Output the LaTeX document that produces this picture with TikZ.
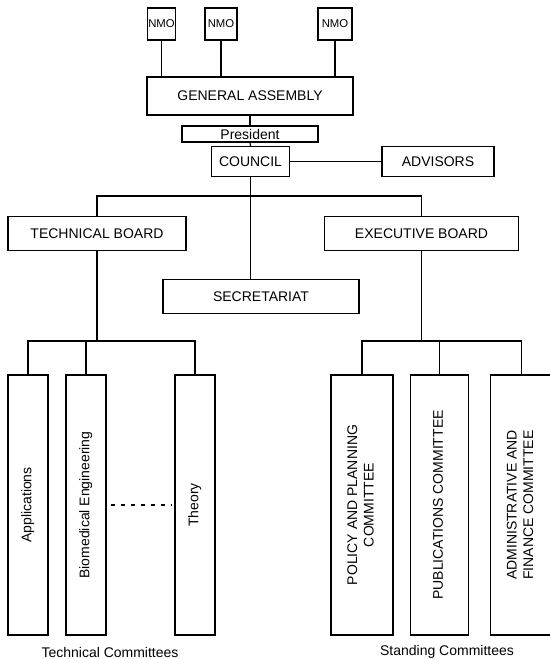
\documentclass[tikz,border=0pt]{standalone}
\usepackage{fontspec}
\setmainfont{Liberation Sans}
\tikzset{
	orgbox/.style={draw, line width=0.8pt, inner sep=0pt, align=center, font=\fontsize{10.5}{12.5}\selectfont},
	nmobox/.style={orgbox, minimum height=24pt, font=\fontsize{8.5}{10}\selectfont},
	tallbox/.style={orgbox, minimum height=195pt},
	link/.style={line width=0.9pt},
}
\newcommand{\uptext}[1]{\rotatebox{90}{\begin{tabular}{@{}c@{}}#1\end{tabular}}}

\begin{document}
\begin{tikzpicture}[x=0.75pt, y=-0.75pt]
	\useasboundingbox (0,0) rectangle (549,659);
	\node [nmobox, minimum width=21pt] (nmoA) at (161.5,24) {NMO};
	\node [nmobox, minimum width=24pt] (nmoB) at (221,24) {NMO};
	\node [nmobox, minimum width=25.5pt] (nmoC) at (335,24) {NMO};
	\node [orgbox, minimum width=154.5pt, minimum height=28.5pt] (assembly) at (250,96) {GENERAL ASSEMBLY};
	\node [orgbox, minimum width=102pt, minimum height=12pt] (president) at (250,134) {President};
	\node [orgbox, minimum width=59pt, minimum height=22pt] (council) at (250.5,161.5) {COUNCIL};
	\node [orgbox, minimum width=84pt, minimum height=22pt] (advisors) at (438,161.5) {ADVISORS};
	\node [orgbox, minimum width=133.5pt, minimum height=26pt] (techboard) at (97,233.5) {TECHNICAL BOARD};
	\node [orgbox, minimum width=146pt, minimum height=26pt] (execboard) at (421.5,233.5) {EXECUTIVE BOARD};
	\node [orgbox, minimum width=147pt, minimum height=26pt] (secretariat) at (261,296.5) {SECRETARIAT};
	\node [tallbox, minimum width=30pt] (applications) at (28,505) {\uptext{Applications}};
	\node [tallbox, minimum width=30pt] (biomedical) at (86,505) {\uptext{Biomedical Engineering}};
	\node [tallbox, minimum width=30pt] (theory) at (195,505) {\uptext{Theory}};
	\node [tallbox, minimum width=46.5pt] (policy) at (362,505) {\uptext{POLICY AND PLANNING\\COMMITTEE}};
	\node [tallbox, minimum width=43pt] (publications) at (439.5,505) {\uptext{PUBLICATIONS COMMITTEE}};
	\node [tallbox, minimum width=46pt] (finance) at (521.5,505) {\uptext{ADMINISTRATIVE AND\\FINANCE COMMITTEE}};
	\node [font=\fontsize{10.5}{12.5}\selectfont] (techlabel) at (110,652) {Technical Committees};
	\node [font=\fontsize{10.5}{12.5}\selectfont] (standlabel) at (447,652) {Standing Committees};
	\coordinate (split) at (250,196);
	\coordinate (techbus) at (97,341);
	\coordinate (standbus) at (421.5,341);
	\draw [link] (nmoA.south) -- (nmoA.south |- assembly.north);
	\draw [link] (nmoB.south) -- (nmoB.south |- assembly.north);
	\draw [link] (nmoC.south) -- (nmoC.south |- assembly.north);
	\draw [link] (assembly.south) -- (president.north);
	\draw [link] (president.south) -- (council.north);
	\draw [link] (council.east) -- (advisors.west);
	\draw [link] (council.south) -- (council.south |- secretariat.north);
	\draw [link] (techboard.north) |- (split) -| (execboard.north);
	\draw [link] (techboard.south) -- (techbus);
	\draw [link] (applications.north) |- (techbus) -| (theory.north);
	\draw [link] (biomedical.north) -- (biomedical.north |- techbus);
	\draw [link] (execboard.south) -- (standbus);
	\draw [link] (policy.north) |- (standbus) -| (finance.north);
	\draw [link] (publications.north) -- (publications.north |- standbus);
	\draw [link, dash pattern=on 3pt off 4.5pt, shorten <=3pt, shorten >=2pt] (biomedical.east) -- (theory.west);
\end{tikzpicture}
\end{document}
